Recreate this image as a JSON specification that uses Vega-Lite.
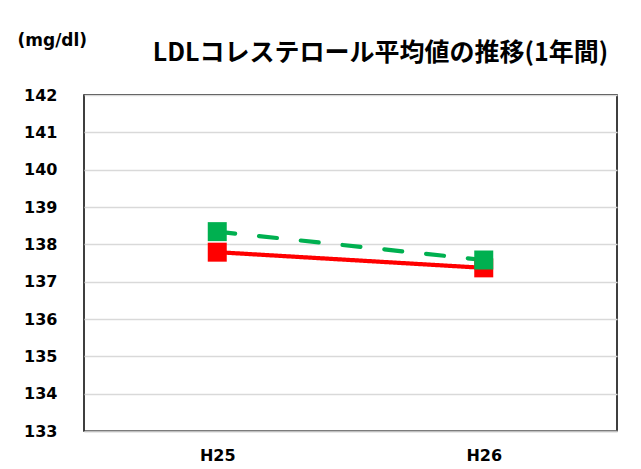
{
  "$schema": "https://vega.github.io/schema/vega-lite/v6.json",
  "autosize": "none",
  "width": 533,
  "height": 336,
  "padding": {"left": 84, "top": 95, "right": 24, "bottom": 38},
  "background": "white",
  "title": {
    "text": "LDLコレステロール平均値の推移(1年間)",
    "font": "Noto Sans CJK JP",
    "fontSize": 25,
    "fontWeight": "bold",
    "color": "black",
    "anchor": "middle",
    "offset": 0,
    "dy": 35,
    "dx": 30
  },
  "config": {
    "view": {"stroke": "black", "strokeWidth": 1.5}
  },
  "data": {
    "values": [
      {"year": "H25", "series": "系列1", "value": 137.79},
      {"year": "H26", "series": "系列1", "value": 137.37},
      {"year": "H25", "series": "系列2", "value": 138.34},
      {"year": "H26", "series": "系列2", "value": 137.58}
    ]
  },
  "encoding": {
    "x": {
      "field": "year",
      "type": "ordinal",
      "scale": {"type": "point", "padding": 0.5},
      "axis": {
        "title": null,
        "labelAngle": 0,
        "labelFont": "DejaVu Sans",
        "labelFontSize": 16,
        "labelFontWeight": "bold",
        "labelColor": "black",
        "labelPadding": 16,
        "ticks": false,
        "domainColor": "#BFBFBF",
        "domainWidth": 1.5,
        "grid": false
      }
    },
    "y": {
      "field": "value",
      "type": "quantitative",
      "scale": {"domain": [133, 142], "nice": false, "zero": false},
      "axis": {
        "values": [133, 134, 135, 136, 137, 138, 139, 140, 141, 142],
        "title": "(mg/dl)",
        "titleAngle": 0,
        "titleX": -67,
        "titleY": -55,
        "titleAlign": "left",
        "titleBaseline": "middle",
        "titleFont": "DejaVu Sans",
        "titleFontSize": 17,
        "titleFontWeight": "bold",
        "titleColor": "black",
        "labelFont": "DejaVu Sans",
        "labelFontSize": 16,
        "labelFontWeight": "bold",
        "labelColor": "black",
        "labelPadding": 27,
        "ticks": false,
        "domain": false,
        "grid": true,
        "gridColor": "#D9D9D9",
        "gridWidth": 1.5
      }
    },
    "color": {
      "field": "series",
      "type": "nominal",
      "scale": {"domain": ["系列1", "系列2"], "range": ["#FF0000", "#00B050"]},
      "legend": null
    }
  },
  "layer": [
    {
      "mark": {"type": "line", "strokeWidth": 4.2, "strokeCap": "round"},
      "encoding": {
        "strokeDash": {
          "field": "series",
          "type": "nominal",
          "scale": {"domain": ["系列1", "系列2"], "range": [[1, 0], [18, 24]]},
          "legend": null
        }
      }
    },
    {
      "mark": {"type": "square", "size": 361, "opacity": 1, "filled": true}
    }
  ]
}
